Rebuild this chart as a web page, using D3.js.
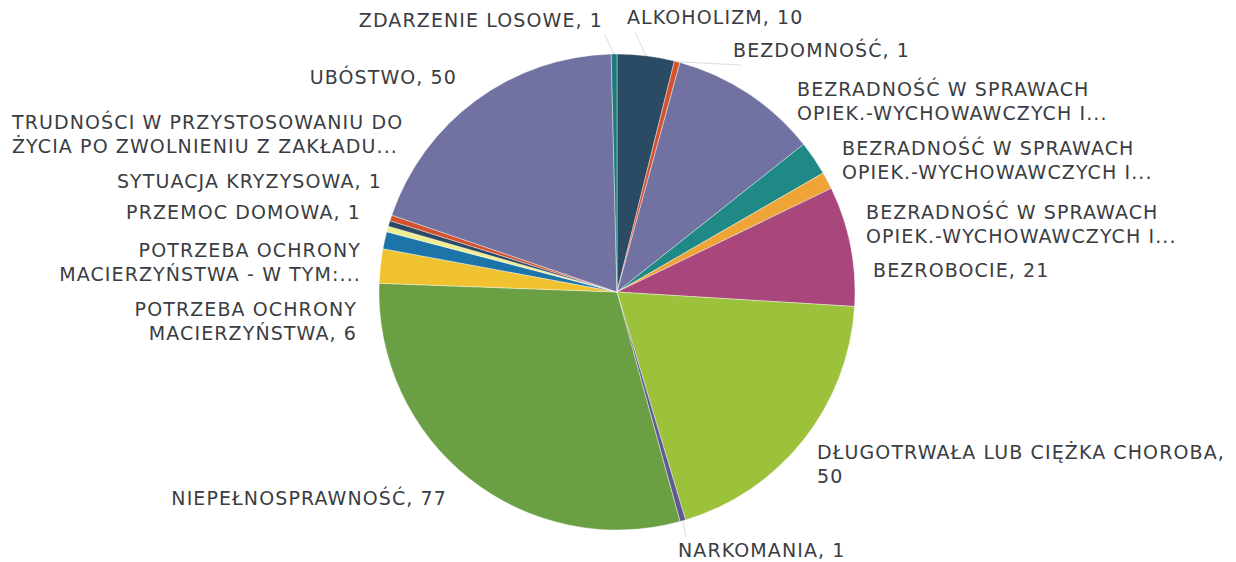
<!DOCTYPE html>
<html>
<head>
<meta charset="utf-8">
<title>Pie</title>
<script src="https://d3js.org/d3.v7.min.js"></script>
<style>
  body { margin: 0; background: #fff; }
  text { font-family: "DejaVu Sans", sans-serif; font-size: 19px; fill: #3a3d42; letter-spacing: 1.1px; }
</style>
</head>
<body>
<div id="chart"></div>
<script>
//------------------------ DATA ------------------------//
const categories = [
  "ALKOHOLIZM",
  "BEZDOMNOŚĆ",
  "BEZRADNOŚĆ W SPRAWACH OPIEK.-WYCHOWAWCZYCH I 1",
  "BEZRADNOŚĆ W SPRAWACH OPIEK.-WYCHOWAWCZYCH I 2",
  "BEZRADNOŚĆ W SPRAWACH OPIEK.-WYCHOWAWCZYCH I 3",
  "BEZROBOCIE",
  "DŁUGOTRWAŁA LUB CIĘŻKA CHOROBA",
  "NARKOMANIA",
  "NIEPEŁNOSPRAWNOŚĆ",
  "POTRZEBA OCHRONY MACIERZYŃSTWA",
  "POTRZEBA OCHRONY MACIERZYŃSTWA - W TYM",
  "PRZEMOC DOMOWA",
  "SYTUACJA KRYZYSOWA",
  "TRUDNOŚCI W PRZYSTOSOWANIU",
  "UBÓSTWO",
  "ZDARZENIE LOSOWE"
];
const values = [10, 1, 26, 6, 3, 21, 50, 1, 77, 6, 3, 1, 1, 1, 50, 1];
// label text lines as shown on the chart
const labelLines = [
  ["ALKOHOLIZM, 10"],
  ["BEZDOMNOŚĆ, 1"],
  ["BEZRADNOŚĆ W SPRAWACH", "OPIEK.-WYCHOWAWCZYCH I..."],
  ["BEZRADNOŚĆ W SPRAWACH", "OPIEK.-WYCHOWAWCZYCH I..."],
  ["BEZRADNOŚĆ W SPRAWACH", "OPIEK.-WYCHOWAWCZYCH I..."],
  ["BEZROBOCIE, 21"],
  ["DŁUGOTRWAŁA LUB CIĘŻKA CHOROBA,", "50"],
  ["NARKOMANIA, 1"],
  ["NIEPEŁNOSPRAWNOŚĆ, 77"],
  ["POTRZEBA OCHRONY", "MACIERZYŃSTWA, 6"],
  ["POTRZEBA OCHRONY", "MACIERZYŃSTWA - W TYM:..."],
  ["PRZEMOC DOMOWA, 1"],
  ["SYTUACJA KRYZYSOWA, 1"],
  ["TRUDNOŚCI W PRZYSTOSOWANIU DO", "ŻYCIA PO ZWOLNIENIU Z ZAKŁADU..."],
  ["UBÓSTWO, 50"],
  ["ZDARZENIE LOSOWE, 1"]
];

//------------------------ STYLE / LAYOUT ------------------------//
const colors = [
  "#2b4a63", "#d4532f", "#7272a2", "#1e8985", "#eea436", "#a9467b",
  "#9cc23c", "#605a90", "#6a9f43", "#f1c22f", "#1c74a9", "#efee8e",
  "#2c4a64", "#d4532f", "#7272a2", "#1c7c7b"
];
// label placement: [x, first baseline y, anchor, leader line?]
const labelLayout = [
  [627, 24, "start", true],
  [733, 57, "start", true],
  [797, 96, "start", false],
  [842, 155, "start", false],
  [866, 219, "start", false],
  [873, 277, "start", false],
  [817, 459, "start", false],
  [678, 557, "start", true],
  [447, 505, "end", false],
  [357, 316, "end", false],
  [361, 257, "end", false],
  [361, 219, "end", false],
  [382, 188, "end", false],
  [12, 129, "start", false],
  [457, 84, "end", false],
  [603, 27, "end", true]
];
const lineH = 23.5;

const width = 1236, height = 562;
const cx = 617, cy = 292, radius = 238;

const svg = d3.select("#chart").append("svg")
  .attr("width", width)
  .attr("height", height);

const g = svg.append("g").attr("transform", `translate(${cx},${cy})`);

const pie = d3.pie().sort(null).value(d => d);
const arcs = pie(values);
const arc = d3.arc().innerRadius(0).outerRadius(radius);

g.selectAll("path.slice")
  .data(arcs)
  .enter().append("path")
  .attr("class", "slice")
  .attr("d", arc)
  .attr("fill", (d, i) => colors[i])
  .attr("stroke", "#fff")
  .attr("stroke-width", 0.4);

// leader lines for small slices
const edge = d3.arc().innerRadius(radius).outerRadius(radius);
arcs.forEach((d, i) => {
  const L = labelLayout[i];
  if (!L[3]) return;
  const p = edge.centroid(d);
  const lx = L[0] - cx, ly = L[1] - cy;
  const tx = L[2] === "end" ? lx + 2 : lx + 8;
  const ty = ly > 0 ? ly - 20 : ly + 8;
  g.append("line")
    .attr("x1", p[0]).attr("y1", p[1])
    .attr("x2", tx).attr("y2", ty)
    .attr("stroke", "#d3dde8")
    .attr("stroke-width", 1);
});

// labels
const labels = svg.selectAll("text.lbl")
  .data(labelLines)
  .enter().append("text")
  .attr("class", "lbl")
  .attr("text-anchor", (d, i) => labelLayout[i][2]);

labels.each(function(lines, i) {
  const t = d3.select(this);
  lines.forEach((s, k) => {
    t.append("tspan")
      .attr("x", labelLayout[i][0])
      .attr("y", labelLayout[i][1] + k * lineH)
      .text(s);
  });
});
</script>
</body>
</html>
